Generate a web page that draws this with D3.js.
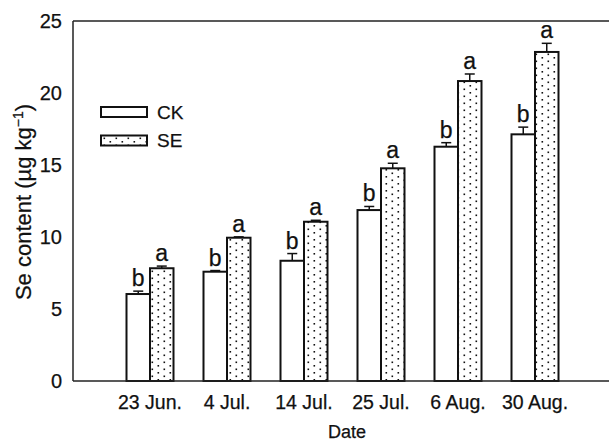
<!DOCTYPE html>
<html><head><meta charset="utf-8">
<script src="https://cdn.jsdelivr.net/npm/d3@7"></script>
<style>body{margin:0;background:#fff}svg{display:block}text{font-family:"Liberation Sans",Arial,sans-serif;fill:#111;stroke:#111;stroke-width:0.25px}</style>
</head><body><svg id="c" width="609" height="443"></svg>
<script>
const dates = ["23 Jun.", "4 Jul.", "14 Jul.", "25 Jul.", "6 Aug.", "30 Aug."];
const ckValues = [6.04, 7.59, 8.35, 11.87, 16.27, 17.13];
const seValues = [7.83, 9.95, 11.06, 14.77, 20.83, 22.85];
const ckErr = [0.2, 0.08, 0.5, 0.25, 0.28, 0.5];
const seErr = [0.15, 0.06, 0.1, 0.35, 0.49, 0.6];
const ckLetters = ["b", "b", "b", "b", "b", "b"];
const seLetters = ["a", "a", "a", "a", "a", "a"];
const yTicks = [0, 5, 10, 15, 20, 25];
const seriesNames = ["CK", "SE"];

const svg = d3.select("#c");
const L = 73, R = 612, T = 21, B = 381;
const x = d3.scalePoint().domain(dates).range([L, R]).padding(1);
const y = d3.scaleLinear().domain([0, 25]).range([B, T]);
const bw = 23.5;

const defs = svg.append("defs");
const pat = defs.append("pattern").attr("id", "dots").attr("patternUnits", "userSpaceOnUse")
  .attr("width", 12).attr("height", 7);
pat.append("rect").attr("width", 12).attr("height", 7).attr("fill", "#fff");
pat.append("rect").attr("x", 1.5).attr("y", 1).attr("width", 1.6).attr("height", 1.6).attr("fill", "#111");
pat.append("rect").attr("x", 7.5).attr("y", 4.5).attr("width", 1.6).attr("height", 1.6).attr("fill", "#111");

const data = dates.map((d, i) => ({d, ck: ckValues[i], se: seValues[i], cke: ckErr[i], see: seErr[i], ckl: ckLetters[i], sel: seLetters[i]}));

// bars
const g = svg.append("g");
data.forEach(r => {
  const cx = x(r.d);
  [[r.ck, r.cke, r.ckl, cx - bw, "#fff"], [r.se, r.see, r.sel, cx, "url(#dots)"]].forEach(([v, e, l, x0, fill]) => {
    g.append("rect").attr("x", x0).attr("y", y(v)).attr("width", bw).attr("height", y(0) - y(v))
      .attr("fill", fill).attr("stroke", "#111").attr("stroke-width", 2);
    const xc = x0 + bw / 2;
    g.append("line").attr("x1", xc).attr("x2", xc).attr("y1", y(v)).attr("y2", y(v + e)).attr("stroke", "#111").attr("stroke-width", 1.5);
    g.append("line").attr("x1", xc - 5).attr("x2", xc + 5).attr("y1", y(v + e)).attr("y2", y(v + e)).attr("stroke", "#111").attr("stroke-width", 1.5);
    g.append("text").attr("x", xc).attr("y", y(v + e) - 5).attr("text-anchor", "middle").attr("font-size", 23).text(l);
  });
});

// axes
svg.append("line").attr("x1", L).attr("x2", 609).attr("y1", T).attr("y2", T).attr("stroke", "#222").attr("stroke-width", 1.5);
svg.append("line").attr("x1", L).attr("x2", 609).attr("y1", B).attr("y2", B).attr("stroke", "#222").attr("stroke-width", 1.5);
svg.append("line").attr("x1", L).attr("x2", L).attr("y1", T).attr("y2", B).attr("stroke", "#222").attr("stroke-width", 1.5);

svg.append("g").selectAll("text").data(yTicks).join("text")
  .attr("x", 62).attr("y", d => y(d)).attr("dy", "0.35em").attr("text-anchor", "end").attr("font-size", 20).text(d => d);
svg.append("g").selectAll("text").data(dates).join("text")
  .attr("x", d => x(d)).attr("y", 409).attr("text-anchor", "middle").attr("font-size", 19.5).text(d => d);

svg.append("text").attr("x", 347).attr("y", 438).attr("text-anchor", "middle").attr("font-size", 18).text("Date");
const yl = svg.append("text").attr("transform", "translate(31,202) rotate(-90)").attr("text-anchor", "middle").attr("font-size", 22);
yl.append("tspan").text("Se content (µg kg");
yl.append("tspan").attr("dy", -8).attr("font-size", 14).text("−1");
yl.append("tspan").attr("dy", 8).text(")");

// legend
const leg = svg.append("g");
seriesNames.forEach((n, i) => {
  const yy = 107 + i * 28.5;
  leg.append("rect").attr("x", 101).attr("y", yy).attr("width", 46).attr("height", 10)
    .attr("fill", i ? "url(#dots)" : "#fff").attr("stroke", "#111").attr("stroke-width", 2);
  leg.append("text").attr("x", 157).attr("y", yy + 5).attr("dy", "0.35em").attr("font-size", 19).text(n);
});
</script></body></html>
